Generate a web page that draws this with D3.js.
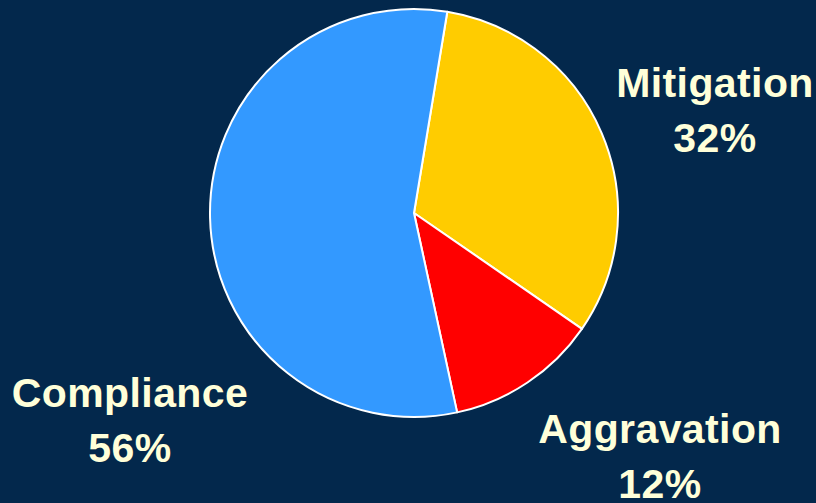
<!DOCTYPE html>
<html>
<head>
<meta charset="utf-8">
<script src="https://cdn.jsdelivr.net/npm/d3@7"></script>
<style>
  html, body { margin: 0; padding: 0; background: #03284c; }
  svg { display: block; }
</style>
</head>
<body>
<div id="main"></div>
<script>
// data
var categories = ["Mitigation", "Aggravation", "Compliance"];
var values = [32, 12, 56];
var colors = ["#ffcc00", "#ff0000", "#3399ff"];

var width = 816, height = 503;
var cx = 414, cy = 213, radius = 204;

var svg = d3.select("#main")
    .append("svg")
    .attr("width", width)
    .attr("height", height);

svg.append("rect")
    .attr("width", width)
    .attr("height", height)
    .attr("fill", "#03284c");

var data = categories.map(function(c, i) {
    return {name: c, value: values[i], color: colors[i]};
});

var pie = d3.pie()
    .sort(null)
    .value(function(d) { return d.value; })
    .startAngle(0.164)
    .endAngle(0.164 + 2 * Math.PI);

var arc = d3.arc().innerRadius(0).outerRadius(radius);

var g = svg.append("g")
    .attr("transform", "translate(" + cx + "," + cy + ")");

g.selectAll(".slice")
    .data(pie(data))
    .enter()
    .append("path")
    .attr("class", "slice")
    .attr("d", arc)
    .attr("fill", function(d) { return d.data.color; })
    .attr("stroke", "#ffffff")
    .attr("stroke-width", 2)
    .attr("stroke-linejoin", "round");

// label anchor spots, by category
var label_pos = {
    "Mitigation": [715, 97],
    "Aggravation": [660, 443],
    "Compliance": [130, 407]
};

var labels = svg.selectAll(".label")
    .data(data)
    .enter()
    .append("text")
    .attr("class", "label")
    .attr("text-anchor", "middle")
    .attr("font-family", "'Liberation Sans', Arial, sans-serif")
    .attr("font-weight", "bold")
    .attr("font-size", "41px")
    .attr("letter-spacing", "0.4px")
    .attr("fill", "#ffffd9");

labels.append("tspan")
    .attr("x", function(d) { return label_pos[d.name][0]; })
    .attr("y", function(d) { return label_pos[d.name][1]; })
    .text(function(d) { return d.name; });

labels.append("tspan")
    .attr("x", function(d) { return label_pos[d.name][0]; })
    .attr("y", function(d) { return label_pos[d.name][1] + 55; })
    .text(function(d) { return d.value + "%"; });
</script>
</body>
</html>
